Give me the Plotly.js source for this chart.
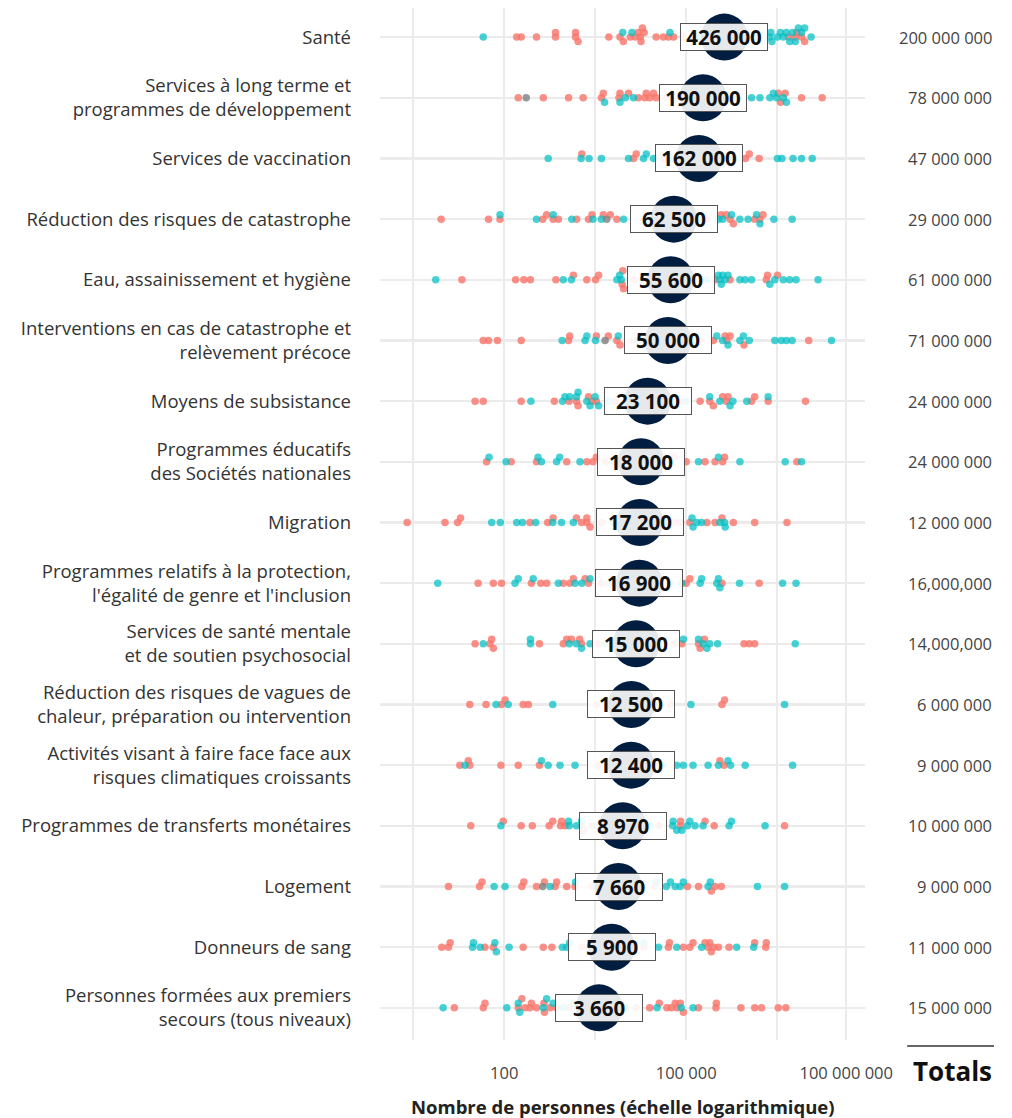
<!DOCTYPE html>
<html>
<head>
<meta charset="utf-8">
<script src="https://cdn.plot.ly/plotly-3.0.1.min.js"></script>
<style>html,body{margin:0;padding:0;background:#fff;}#chart{width:1012px;height:1118px;}</style>
</head>
<body>
<div id="chart"></div>
<script>
const categories = [
  "Santé",
  "Services à long terme et<br>programmes de développement",
  "Services de vaccination",
  "Réduction des risques de catastrophe",
  "Eau, assainissement et hygiène",
  "Interventions en cas de catastrophe et<br>relèvement précoce",
  "Moyens de subsistance",
  "Programmes éducatifs<br>des Sociétés nationales",
  "Migration",
  "Programmes relatifs à la protection,<br>l'égalité de genre et l'inclusion",
  "Services de santé mentale<br>et de soutien psychosocial",
  "Réduction des risques de vagues de<br>chaleur, préparation ou intervention",
  "Activités visant à faire face face aux<br>risques climatiques croissants",
  "Programmes de transferts monétaires",
  "Logement",
  "Donneurs de sang",
  "Personnes formées aux premiers<br>secours (tous niveaux)"
];
const medianes = [426000, 190000, 162000, 62500, 55600, 50000, 23100, 18000, 17200, 16900, 15000, 12500, 12400, 8970, 7660, 5900, 3660];
const totaux = ["200 000 000", "78 000 000", "47 000 000", "29 000 000", "61 000 000", "71 000 000", "24 000 000", "24 000 000", "12 000 000", "16,000,000", "14,000,000", "6 000 000", "9 000 000", "10 000 000", "9 000 000", "11 000 000", "15 000 000"];
const xTickVals = [3.162, 100, 3162, 100000, 3162000, 43700000];
const xTickText = ["", "100", "", "100 000", "", "100 000 000"];

// Salmon series
const groupeA = [
  [160,190,340,700,700,1500,1500,1650,5300,8100,9200,12000,14400,16300,17500,18000,19000,20300,32000,42000,51000,62000,90000,130000,250000,540000,4.9e6,6.3e6,6.7e6,8e6,9e6],
  [170,440,1150,2000,4000,4300,7800,8100,11200,16300,20800,22000,25000,29000,32000,48000,80000,120000,210000,400000,3.3e6,3.6e6,4.3e6,8e6,1.75e7],
  [1900,13500,15000,42000,80000,250000,470000,9.5e5,1.1e6,1.6e6],
  [9.1,55,85,430,500,640,780,1560,2450,2800,4300,5600,7200,20000,32000,115000,220000,3.8e5,4.6e5,5.3e5,6e5,1.35e6,1.65e6,1.85e6],
  [20,154,210,270,710,1380,2300,3200,3600,8800,9000,9300,14000,25000,90000,180000,3e5,5.3e5,2.1e6,2.2e6,3.2e6],
  [45,55,77,190,1150,1200,3300,5200,7200,8100,13000,20000,90000,170000,2.8e5,4.4e5,4.7e5,5.3e5,9e5,1.05e7],
  [33,45,190,670,1170,1550,1650,2450,2800,3300,6800,11000,48000,80000,1.7e5,2.45e5,2.8e5,4e5,4.6e5,4.9e5,1.2e6,1.35e6,2.25e6,9.3e6],
  [51,130,340,1070,2300,2900,3300,4700,8500,32000,63000,100000,2.05e5,3e5,4e5,4.3e5,6.7e6],
  [2.5,10.5,17,19,265,520,640,1550,1880,2300,2300,2600,4000,8500,32000,63000,8e4,1.15e5,2.2e5,3e5,3.9e5,6e5,1.35e6,4.6e6],
  [37,66,90,280,400,500,940,1200,1380,2150,2450,4000,7200,28000,55000,1.0e5,1.15e5,3.9e5,1.6e6],
  [33,58,62,66,380,940,1070,1280,1750,1880,3500,6300,32000,63000,8.5e4,1.6e5,1.7e5,2e5,9e5,1.1e6,1.35e6],
  [27,50,90,103,205,250,3300,6000,25000,55000,3.9e5,4.3e5],
  [18.5,25.5,27,88,170,380,3500,7000,25000,3.6e5,4.2e5],
  [28,96,190,290,550,630,850,880,1000,1880,2000,2800,4300,20000,36000,8e4,8.1e4,2.05e5,2.9e5,4.2e6],
  [12,39,43,195,210,340,460,690,730,1070,1470,2800,4300,18000,30000,1.05e5,1.6e5,2.6e5,3e5,3.8e5],
  [9.3,12,12.8,48,66,205,440,610,1900,3000,11000,20000,5.1e4,5.3e4,9e4,1.15e5,1.3e5,2.05e5,2.3e5,2.45e5,2.6e5,2.8e5,3.4e5,5.1e5,1.35e6,2.05e6,2.1e6],
  [15,45,48,170,195,220,265,280,340,450,460,570,730,1200,2000,4000,8000,15000,2.5e4,3.6e4,4.8e4,5.7e4,6.6e4,7e4,8e4,9e4,1.6e5,3.1e5,3.15e5,8e5,1.35e6,1.75e6,3.3e6,4.4e6]
];
// Teal series
const groupeB = [
  [45,9000,12800,54000,170000,370000,780000,1.45e6,2.4e6,2.5e6,2.6e6,3.2e6,3.6e6,4e6,4.5e6,5.1e6,5.7e6,6.3e6,7.1e6,8e6,9e6,1.15e7],
  [4500,8100,9900,13500,150000,320000,680000,1.2e6,1.65e6,2.4e6,2.75e6,3.1e6,4e6,4.5e6],
  [530,1850,2500,4000,11200,19800,22000,29000,60000,110000,190000,600000,3.2e6,3.8e6,5.8e6,8e6,1.2e7],
  [85,340,640,1300,2900,4000,9300,25000,80000,170000,3.4e5,4e5,5.6e5,7.7e5,1.05e6,1.45e6,1.65e6,2.8e6,5.6e6],
  [7.4,940,1280,7200,8000,8500,19000,35000,110000,220000,3.4e5,3.6e5,3.8e5,4e5,4.4e5,4.9e5,7.7e5,9.4e5,1.2e6,2.4e6,2.9e6,4e6,5.1e6,6.5e6,1.5e7],
  [900,2150,2300,3200,7600,16000,32000,80000,3.2e5,4e5,4.9e5,7.7e5,8.8e5,1.1e6,2.9e6,3.7e6,4.5e6,5.6e6,2.5e7],
  [275,915,1000,1200,1550,1650,2300,2600,3150,3600,5300,40000,100000,2.45e5,3.6e5,5.3e5,5.9e5,1e6,2.25e6],
  [56,107,360,410,730,820,1770,6300,25000,55000,1.6e5,3.4e5,7.7e5,4.3e6,8e6],
  [62,86,160,200,330,630,880,1380,6300,25000,48000,1.25e5,1.5e5,1.8e5,1.3e5,3.6e5,4.3e5,4.4e5],
  [8,150,170,300,780,1470,1900,2600,5300,10000,36000,8.5e4,1.7e5,1.8e5,3.2e5,3.4e5,3.6e5,7.6e5,3.9e6,6.5e6],
  [45,270,270,1180,1550,1880,2600,4500,25000,9e4,1.6e5,2.2e5,1.9e5,2.45e5,3.3e5,6.3e6],
  [73,116,630,10000,36000,1.2e5,4.2e6],
  [22.5,410,530,830,1470,5000,20000,40000,7e4,9e4,1.3e5,2.3e5,3.4e5,4.9e5,5.4e5,9.4e5,5.7e6],
  [88,1150,1180,1550,1880,3300,25000,6e4,6.1e4,7e4,8.5e4,1.05e5,1.15e5,1.4e5,1.9e5,5.1e5,5.6e5,2e6],
  [68,103,570,1500,3300,10000,32000,4.7e4,5.5e4,6.6e4,8e4,9e4,2.3e5,2.5e5,1.5e6,4.2e6],
  [30,31,40,70,74,120,910,1070,1200,2500,10000,20000,3.5e4,7e4,1.8e5,6.8e5,1.3e6],
  [9.8,110,170,180,440,500,640,940,1400,3500,10000,3.3e4,8.3e4,1.3e5]
];
// Grey (missing group) points
const groupeNA = [[],[230],[],[4900],[],[4600],[],[],[],[],[],[],[],[],[430],[],[]];

// ---- layout constants (pixels) ----
const PX_DECADE = 60.6, PX_ROW = 60.67, STEP = 4.5, RAD = 4.2;

const pts = {A:{x:[],y:[]}, B:{x:[],y:[]}, N:{x:[],y:[]}};
categories.forEach((c, i) => {
  const items = [];
  groupeA[i].forEach(v => items.push({v, g:'A'}));
  groupeB[i].forEach(v => items.push({v, g:'B'}));
  groupeNA[i].forEach(v => items.push({v, g:'N'}));
  items.sort((a, b) => a.v - b.v);
  const placed = [];
  items.forEach(it => {
    const px = Math.log10(it.v) * PX_DECADE;
    let py = 0;
    for (const k of [0, -1, 1, -2, 2, -3, 3]) {
      const cand = k * STEP;
      if (placed.every(p => (p.px - px) ** 2 + (p.py - cand) ** 2 >= RAD * RAD)) { py = cand; break; }
      py = cand;
    }
    placed.push({px, py});
    pts[it.g].x.push(it.v);
    pts[it.g].y.push(i + py / PX_ROW);
  });
});

const idx = categories.map((c, i) => i);
const fmt = v => String(v).replace(/\B(?=(\d{3})+(?!\d))/g, ' ');

const traces = [
  {type:'scatter', mode:'markers', x:pts.A.x, y:pts.A.y, marker:{size:7.5, color:'#F8766D', opacity:0.82, line:{width:0}}, hoverinfo:'skip'},
  {type:'scatter', mode:'markers', x:pts.B.x, y:pts.B.y, marker:{size:7.5, color:'#00BFC4', opacity:0.72, line:{width:0}}, hoverinfo:'skip'},
  {type:'scatter', mode:'markers', x:pts.N.x, y:pts.N.y, marker:{size:7.5, color:'#7F7F7F', opacity:0.8, line:{width:0}}, hoverinfo:'skip'},
  {type:'scatter', mode:'markers', x:medianes, y:idx, marker:{size:47, color:'#011E41', line:{width:0}}, hoverinfo:'skip'}
];

const FONT = "'Open Sans', 'Noto Sans', sans-serif";
const annotations = [];
medianes.forEach((m, i) => {
  annotations.push({x:Math.log10(m), y:i, xref:'x', yref:'y', text:fmt(m), showarrow:false,
    font:{family:FONT, size:20.5, color:'#111', weight:'bold'}, bgcolor:'rgba(255,255,255,0.9)',
    bordercolor:'#555', borderwidth:1, borderpad:1, width:84, height:24, align:'center', valign:'middle'});
  annotations.push({x:1.266, y:i, xref:'paper', yref:'y', text:totaux[i], showarrow:false, xanchor:'right',
    font:{family:FONT, size:16.5, color:'#444'}});
});
annotations.push({x:1.266, y:-0.030, xref:'paper', yref:'paper', text:'Totals', showarrow:false, xanchor:'right', yanchor:'middle',
  font:{family:FONT, size:26, color:'#111', weight:'bold'}});
annotations.push({x:0.5, y:-0.064, xref:'paper', yref:'paper', text:'Nombre de personnes (échelle logarithmique)', showarrow:false,
  xanchor:'center', yanchor:'middle', font:{family:FONT, size:18.5, color:'#222', weight:'bold'}});

const layout = {
  width:1012, height:1118,
  margin:{l:380, r:147, t:8, b:78},
  paper_bgcolor:'#fff', plot_bgcolor:'#fff',
  showlegend:false,
  hovermode:false,
  font:{family:FONT},
  xaxis:{type:'log', range:[-0.05, 7.95], tickvals:xTickVals, ticktext:xTickText,
    showgrid:true, gridcolor:'#EBEBEB', gridwidth:2, zeroline:false, showline:false, ticks:'',
    tickfont:{family:FONT, size:16.5, color:'#444'}, ticklabelstandoff:21},
  yaxis:{range:[16.53, -0.48], tickvals:idx, ticktext:categories, showgrid:true, gridcolor:'#EBEBEB', gridwidth:2.5,
    zeroline:false, showline:false, ticks:'', tickfont:{family:FONT, size:18.5, color:'#333'}, ticklabelstandoff:28},
  shapes:[{type:'line', xref:'paper', yref:'paper', x0:1.087, x1:1.266, y0:-0.0058, y1:-0.0058, line:{color:'#333', width:1.5}}],
  annotations
};

Plotly.newPlot('chart', traces, layout, {staticPlot:true, displayModeBar:false});
</script>
</body>
</html>
